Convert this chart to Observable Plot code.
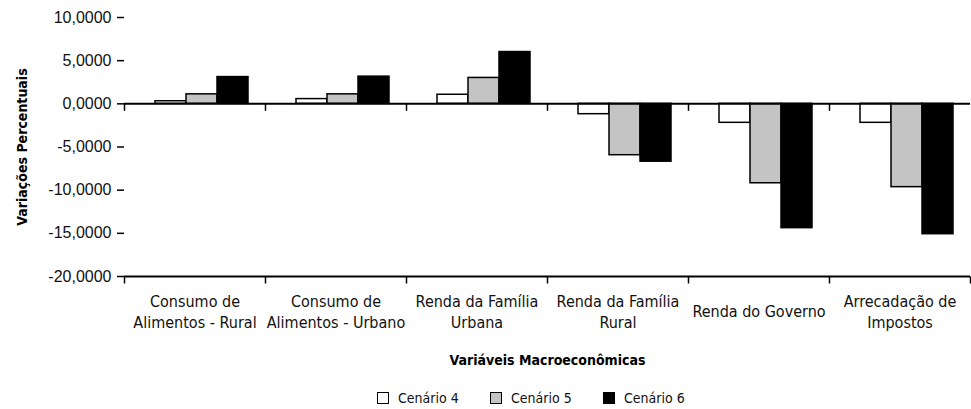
<!DOCTYPE html>
<html>
<head>
<meta charset="utf-8">
<script src="https://cdn.jsdelivr.net/npm/d3@7"></script>
<script src="https://cdn.jsdelivr.net/npm/@observablehq/plot@0.6"></script>
<style>
  html, body { margin: 0; padding: 0; background: #fff; }
  body { width: 971px; height: 409px; overflow: hidden; }
  #chart svg { display: block; }
  #legend { display: flex; align-items: center; padding-left: 377px; height: 20px; margin-top: 8px;
    font-family: "Liberation Sans Narrow", "Arial Narrow", "DejaVu Sans Condensed", sans-serif; font-size: 14px; color: #111; }
  #legend .item { display: flex; align-items: center; width: 113px; }
  #legend .sw { width: 10px; height: 10px; border: 1.5px solid #000; margin-right: 9px; }
  #chart [aria-label="y-axis label"], #chart [aria-label="fx-axis label"] {
    font-family: "Liberation Sans Narrow", "Arial Narrow", "DejaVu Sans Condensed", sans-serif; font-weight: bold; }
  #chart .narrow { font-family: "Liberation Sans Narrow", "Arial Narrow", "DejaVu Sans Condensed", sans-serif; }
</style>
</head>
<body>
<div id="chart"></div>
<div id="legend"></div>
<script>
const categories = [
  "Consumo de Alimentos - Rural",
  "Consumo de Alimentos - Urbano",
  "Renda da Família Urbana",
  "Renda da Família Rural",
  "Renda do Governo",
  "Arrecadação de Impostos"
];
const categoryLabels = [
  "Consumo de\nAlimentos - Rural",
  "Consumo de\nAlimentos - Urbano",
  "Renda da Família\nUrbana",
  "Renda da Família\nRural",
  "Renda do Governo",
  "Arrecadação de\nImpostos"
];
const series = ["Cenário 4", "Cenário 5", "Cenário 6"];
const cenario4 = [0.3, 0.55, 1.05, -1.2, -2.2, -2.2];
const cenario5 = [1.1, 1.1, 3.0, -5.95, -9.2, -9.65];
const cenario6 = [3.1, 3.15, 6.0, -6.7, -14.4, -15.1];
const yTicks = [10, 5, 0, -5, -10, -15, -20];
const colors = ["#ffffff", "#c4c4c4", "#000000"];

const seriesValues = [cenario4, cenario5, cenario6];
const data = [];
categories.forEach((c, i) => {
  series.forEach((s, k) => data.push({cat: c, serie: s, value: seriesValues[k][i]}));
});

const fmt = d => d.toFixed(4).replace(".", ",");

const tickSymbol = { draw(ctx) { ctx.moveTo(0, 0); ctx.lineTo(0, 7); } };

const H = 380;
const chart = Plot.plot({
  width: 971,
  height: H,
  marginTop: 17,
  marginBottom: H - 276,
  marginLeft: 124,
  marginRight: 1,
  style: {background: "#fff", color: "#000", fontFamily: "'Liberation Sans', Arial, sans-serif"},
  fx: {domain: categories, padding: 0, axis: null},
  x: {domain: series, paddingInner: 0, paddingOuter: 0.724, align: 0.652, axis: null},
  y: {domain: [-20, 10]},
  color: {domain: series, range: colors},
  marks: [
    Plot.axisY({ticks: yTicks, tickFormat: fmt, tickSize: 7, tickPadding: 6, fontSize: 16, label: null, strokeWidth: 1.5, line: true, fill: "#111"}),
    Plot.axisY({ticks: [], label: "Variações Percentuais", labelAnchor: "center", labelOffset: 107, labelArrow: "none", tickSize: 0, fontSize: 14}),
    Plot.barY(data, {fx: "cat", x: "serie", y: "value", fill: "serie", stroke: "#000", strokeWidth: 1.5}),
    Plot.ruleY([0], {stroke: "#000", strokeWidth: 2}),
    Plot.ruleY([-20], {stroke: "#000", strokeWidth: 1.8}),
    Plot.dot(categories, {fx: d => d, y: () => 0, frameAnchor: "left", symbol: tickSymbol, stroke: "#000", strokeWidth: 1.5, fill: "none"}),
    Plot.dot(categories, {fx: d => d, y: () => -20, frameAnchor: "left", symbol: tickSymbol, stroke: "#000", strokeWidth: 1.5, fill: "none"}),
    Plot.dot(categories.slice(-1), {fx: d => d, y: () => -20, frameAnchor: "right", symbol: tickSymbol, stroke: "#000", strokeWidth: 1.5, fill: "none"}),
    Plot.text(categories, {fx: d => d, text: (d, i) => categoryLabels[i], frameAnchor: "bottom", dy: 34, lineAnchor: "middle", lineHeight: 1.35, fontSize: 16, className: "narrow", fill: "#111"}),
    Plot.axisFx({anchor: "bottom", tickSize: 0, tickFormat: () => "", label: "Variáveis Macroeconômicas", labelAnchor: "center", labelOffset: 88, labelArrow: "none", fontSize: 14})
  ]
});
document.getElementById("chart").appendChild(chart);

const legend = document.getElementById("legend");
series.forEach((s, k) => {
  const item = document.createElement("div");
  item.className = "item";
  const sw = document.createElement("div");
  sw.className = "sw";
  sw.style.background = colors[k];
  const lab = document.createElement("span");
  lab.textContent = s;
  item.appendChild(sw);
  item.appendChild(lab);
  legend.appendChild(item);
});
</script>
</body>
</html>
